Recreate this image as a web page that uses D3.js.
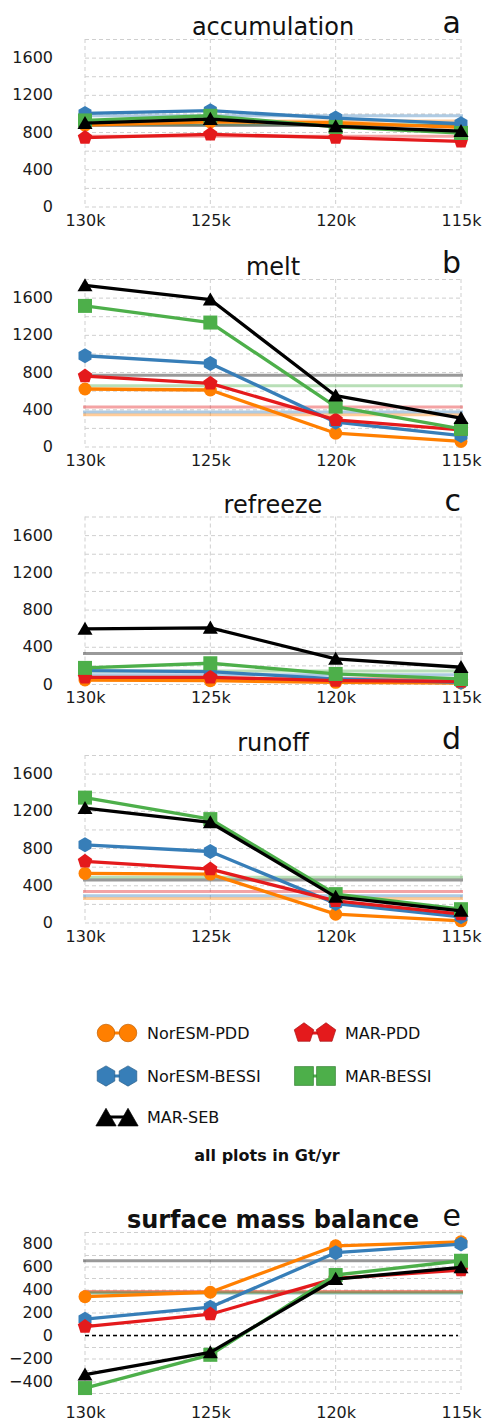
<!DOCTYPE html>
<html lang="en">

<head>
    <meta charset="utf-8">
    <style>
        body { margin: 0; background: #fff; }
        svg { display: block; font-family: "DejaVu Sans", sans-serif; }
    </style>
</head>

<body>
    <svg width="485" height="1423"></svg>
    <script src="https://cdn.jsdelivr.net/npm/d3@7/dist/d3.min.js"></script>
    <script type="text/javascript">
    // periods on the x axis (ka BP)
    var periods = ["130k", "125k", "120k", "115k"];

    // models, in drawing order
    var models = ["NorESM-PDD", "NorESM-BESSI", "MAR-PDD", "MAR-BESSI", "MAR-SEB"];
    var colors = ["#ff7f00", "#377eb8", "#e41a1c", "#4daf4a", "#000000"];

    // values in Gt/yr, one row per model (same order as models)
    var accumulation = [
        [875, 910, 900, 850],
        [1000, 1030, 950, 890],
        [740, 775, 740, 700],
        [925, 975, 855, 790],
        [895, 940, 860, 810]
    ];
    var melt = [
        [618, 607, 143, 54],
        [975, 893, 261, 118],
        [757, 679, 286, 179],
        [1511, 1332, 429, 189],
        [1732, 1579, 546, 304]
    ];
    var refreeze = [
        [43, 36, 18, 11],
        [144, 133, 54, 18],
        [72, 72, 36, 29],
        [173, 223, 108, 54],
        [593, 604, 270, 180]
    ];
    var runoff = [
        [527, 520, 90, 18],
        [835, 763, 204, 61],
        [656, 573, 233, 90],
        [1342, 1111, 305, 143],
        [1229, 1075, 276, 125]
    ];
    var smb = [
        [338, 376, 780, 815],
        [142, 246, 720, 795],
        [78, 185, 497, 569],
        [-457, -168, 526, 650],
        [-341, -147, 491, 592]
    ];

    // present-day reference values (horizontal lines), same model order
    var accumulationPresent = [920, 975, 755, 880, 870];
    var meltPresent = [342, 370, 424, 654, 765];
    var refreezePresent = [45, 100, 60, 140, 327];
    var runoffPresent = [259, 288, 334, 485, 457];
    var smbPresent = [378, 370, 383, 372, 650];

    // tick values
    var fluxTicks = [0, 400, 800, 1200, 1600];
    var fluxGrid = d3.range(0, 1801, 200);
    var smbTicks = [-400, -200, 0, 200, 400, 600, 800];
    var smbGrid = d3.range(-500, 901, 100);

    var svg = d3.select("svg");

    var x = d3.scalePoint().domain(periods).range([85, 461]);

    // marker shapes (custom polygons for pentagon / hexagon)
    function polygon(n) {
        return {
            draw: function(context, size) {
                var r = Math.sqrt(size);
                for (var i = 0; i < n; i++) {
                    var a = -Math.PI / 2 + i * 2 * Math.PI / n;
                    if (i == 0) context.moveTo(r * Math.cos(a), r * Math.sin(a));
                    else context.lineTo(r * Math.cos(a), r * Math.sin(a));
                }
                context.closePath();
            }
        };
    }
    function square() {
        return {
            draw: function(context, size) {
                var h = Math.sqrt(size) / 2;
                context.rect(-h, -h, 2 * h, 2 * h);
            }
        };
    }
    function triangle() {
        return {
            draw: function(context, size) {
                var w = Math.sqrt(size);
                var h = w * 0.87;
                context.moveTo(0, -h * 0.55);
                context.lineTo(w / 2, h * 0.45);
                context.lineTo(-w / 2, h * 0.45);
                context.closePath();
            }
        };
    }
    // [type, size] per model; size: circle area, polygon radius^2, square side^2, triangle side^2
    var markers = [
        [d3.symbolCircle, Math.PI * 6.5 * 6.5],
        [polygon(6), 7.5 * 7.5],
        [polygon(5), 7.6 * 7.6],
        [square(), 14 * 14],
        [triangle(), 15 * 15]
    ];

    function symbolPath(i, scale) {
        return d3.symbol().type(markers[i][0]).size(markers[i][1] * scale * scale)();
    }

    function styleTicks(s) {
        s.select(".domain").remove();
        s.selectAll("text")
            .attr("fill", "#1a1a1a")
            .style("font-family", "'DejaVu Sans', sans-serif")
            .style("font-size", "16px");
    }

    function drawPanel(opt) {
        var y = d3.scaleLinear().domain(opt.domain).range([opt.bottom, opt.top]);
        var g = svg.append("g");

        // dashed grid
        g.append("g")
            .attr("transform", "translate(" + x(periods[0]) + ",0)")
            .call(d3.axisLeft(y).tickValues(opt.grid).tickSize(-(x(periods[3]) - x(periods[0]))).tickFormat(""))
            .call(function(s) { s.select(".domain").remove(); })
            .selectAll("line")
            .attr("stroke", "#cfcfcf")
            .attr("stroke-dasharray", "4,3");

        g.append("g")
            .selectAll("line")
            .data(periods)
            .enter().append("line")
            .attr("x1", function(d) { return x(d); })
            .attr("x2", function(d) { return x(d); })
            .attr("y1", opt.top)
            .attr("y2", opt.bottom)
            .attr("stroke", "#cfcfcf")
            .attr("stroke-dasharray", "4,3");

        // y tick labels
        g.append("g")
            .attr("transform", "translate(" + x(periods[0]) + ",0)")
            .call(d3.axisLeft(y).tickValues(opt.ticks).tickSize(0).tickPadding(32).tickFormat(d3.format("d")))
            .call(styleTicks);

        // x tick labels
        g.append("g")
            .attr("transform", "translate(0," + opt.bottom + ")")
            .call(d3.axisBottom(x).tickSize(0).tickPadding(opt.xpad))
            .call(styleTicks);

        // zero line for smb
        if (opt.zero) {
            g.append("line")
                .attr("x1", x(periods[0]))
                .attr("x2", x(periods[3]) - 3)
                .attr("y1", y(0))
                .attr("y2", y(0))
                .attr("stroke", "#000")
                .attr("stroke-width", 1.5)
                .attr("stroke-dasharray", "4,3");
        }

        // present-day reference lines
        g.append("g")
            .selectAll("line")
            .data(opt.present)
            .enter().append("line")
            .attr("x1", x(periods[0]) - 2)
            .attr("x2", x(periods[3]) + 2)
            .attr("y1", function(d) { return y(d); })
            .attr("y2", function(d) { return y(d); })
            .attr("stroke", function(d, i) { return colors[i]; })
            .attr("stroke-opacity", 0.4)
            .attr("stroke-width", 3);

        var line = d3.line()
            .x(function(d, i) { return x(periods[i]); })
            .y(function(d) { return y(d); });

        opt.values.forEach(function(vals, m) {
            g.append("path")
                .datum(vals)
                .attr("d", line)
                .attr("fill", "none")
                .attr("stroke", colors[m])
                .attr("stroke-width", 3.3)
                .attr("stroke-linejoin", "round");

            g.selectAll(".mk" + m)
                .data(vals)
                .enter().append("path")
                .attr("class", "mk" + m)
                .attr("transform", function(d, i) { return "translate(" + x(periods[i]) + "," + y(d) + ")"; })
                .attr("d", symbolPath(m, 1))
                .attr("fill", colors[m]);
        });

        // title and panel letter
        g.append("text")
            .attr("x", 273)
            .attr("y", opt.top - 4)
            .attr("text-anchor", "middle")
            .style("font-size", "24px")
            .style("font-weight", opt.bold ? "bold" : "normal")
            .attr("fill", "#111")
            .text(opt.title);

        g.append("text")
            .attr("x", 461)
            .attr("y", opt.top - opt.letterLift)
            .attr("text-anchor", "end")
            .style("font-size", "30px")
            .attr("fill", "#111")
            .text(opt.letter);
    }

    var panelTops = [39, 279, 516.5, 755];
    var panelHeight = 167.5;
    var fluxPanels = [
        { title: "accumulation", letter: "a", values: accumulation, present: accumulationPresent },
        { title: "melt", letter: "b", values: melt, present: meltPresent },
        { title: "refreeze", letter: "c", values: refreeze, present: refreezePresent },
        { title: "runoff", letter: "d", values: runoff, present: runoffPresent }
    ];

    fluxPanels.forEach(function(p, i) {
        drawPanel({
            title: p.title,
            letter: p.letter,
            values: p.values,
            present: p.present,
            domain: [0, 1800],
            top: panelTops[i],
            bottom: panelTops[i] + panelHeight,
            ticks: fluxTicks,
            grid: fluxGrid,
            xpad: 8,
            letterLift: 6
        });
    });

    drawPanel({
        title: "surface mass balance",
        letter: "e",
        values: smb,
        present: smbPresent,
        domain: [-500, 900],
        top: 1232,
        bottom: 1393,
        ticks: smbTicks,
        grid: smbGrid,
        xpad: 14,
        zero: true,
        bold: true,
        letterLift: 6
    });

    // legend (two columns, column-major like the original)
    var legendPos = [[97, 1033], [97, 1076], [295, 1033], [295, 1076], [97, 1117]];
    var legend = svg.append("g");
    models.forEach(function(name, m) {
        var lg = legend.append("g")
            .attr("transform", "translate(" + legendPos[m][0] + "," + legendPos[m][1] + ")");
        lg.append("line")
            .attr("x1", 9).attr("x2", 31)
            .attr("y1", 0).attr("y2", 0)
            .attr("stroke", colors[m])
            .attr("stroke-width", 3);
        [9, 31].forEach(function(cx) {
            lg.append("path")
                .attr("transform", "translate(" + cx + "," + (m == 4 ? 1 : 0) + ")")
                .attr("d", symbolPath(m, 1.35))
                .attr("fill", colors[m])
                .attr("stroke", d3.color(colors[m]).darker(0.8))
                .attr("stroke-width", 0.7);
        });
        lg.append("text")
            .attr("x", 50)
            .attr("y", 0)
            .attr("dy", "0.36em")
            .style("font-size", "16px")
            .attr("fill", "#111")
            .text(name);
    });

    legend.append("text")
        .attr("x", 267)
        .attr("y", 1155)
        .attr("dy", "0.36em")
        .attr("text-anchor", "middle")
        .style("font-size", "16px")
        .style("font-weight", "bold")
        .attr("fill", "#111")
        .text("all plots in Gt/yr");
    </script>
</body>

</html>
